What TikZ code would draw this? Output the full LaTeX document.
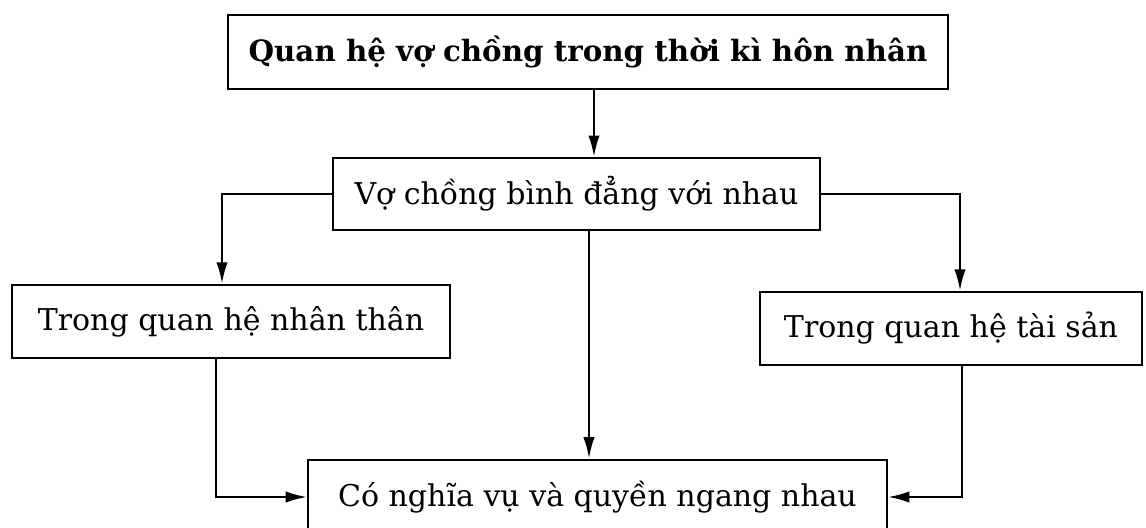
\documentclass[tikz,border=0pt]{standalone}
\usepackage{fontspec}
\setmainfont{DejaVu Serif}
\usetikzlibrary{arrows.meta,calc}
\begin{document}
\begin{tikzpicture}[x=0.75pt,y=-0.75pt,
  box/.style={draw, line width=1.7pt, inner sep=0pt, font=\fontsize{22.5}{26}\selectfont},
  arr/.style={line width=1.7pt, -{Latex[length=16pt,width=8.5pt]}}]
\useasboundingbox (0,0) rectangle (1146,528);
\clip (0,0) rectangle (1146,528);
\fill[white] (0,0) rectangle (1146,528);
\node[box, minimum width=540pt, minimum height=56pt, font=\bfseries\fontsize{22}{26}\selectfont] (top) at (588,52) {Quan hệ vợ chồng trong thời kì hôn nhân};
\node[box, minimum width=365pt, minimum height=54pt] (mid) at (576.5,194) {Vợ chồng bình đẳng với nhau};
\node[box, minimum width=328.5pt, minimum height=55pt] (left) at (231,321.5) {Trong quan hệ nhân thân};
\node[box, minimum width=286.5pt, minimum height=55pt] (right) at (951,328.5) {Trong quan hệ tài sản};
\node[box, minimum width=434pt, minimum height=56pt] (bottom) at (597.5,497) {Có nghĩa vụ và quyền ngang nhau};
\coordinate (ca) at (594,0);
\coordinate (cb) at (589,0);
\coordinate (cl) at (222,0);
\coordinate (cr) at (960,0);
\coordinate (dl) at (216,0);
\coordinate (dr) at (962,0);
\draw[arr] (top.south -| ca) -- (mid.north -| ca);
\draw[arr] (mid.west) -| (left.north -| cl);
\draw[arr] (mid.east) -| (right.north -| cr);
\draw[arr] (mid.south -| cb) -- (bottom.north -| cb);
\draw[arr] (left.south -| dl) |- (bottom.west);
\draw[arr] (right.south -| dr) |- (bottom.east);
\end{tikzpicture}
\end{document}
